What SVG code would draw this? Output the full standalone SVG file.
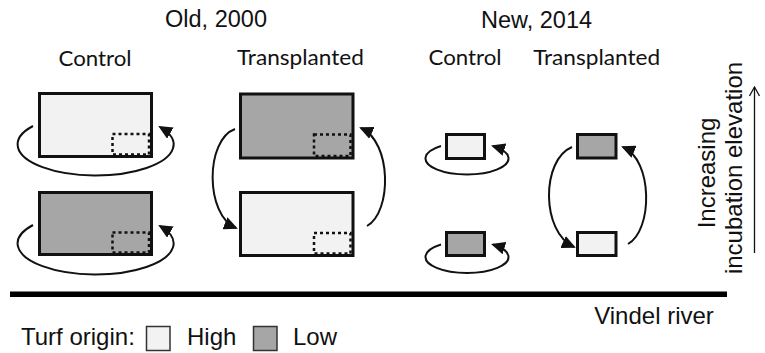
<svg xmlns="http://www.w3.org/2000/svg" width="765" height="353" viewBox="0 0 765 353">
  <style>
    .title { font-family: "Liberation Sans", Arial, sans-serif; font-size: 23.5px; fill: #111; }
    .head { font-family: Lato, "Open Sans", sans-serif; font-size: 22px; fill: #111; }
    .side { font-family: "Liberation Sans", Arial, sans-serif; font-size: 24px; fill: #111; }
    .hi { fill: #f2f2f2; stroke: #111; stroke-width: 3; }
    .lo { fill: #a6a6a6; stroke: #111; stroke-width: 3; }
    .sub { fill: none; stroke: #111; stroke-width: 2.5; stroke-dasharray: 3 3; }
    .move { fill: none; stroke: #111; stroke-width: 2; marker-end: url(#head); }
    .key-hi { fill: #f2f2f2; stroke: #333; stroke-width: 1.5; }
    .key-lo { fill: #a6a6a6; stroke: #333; stroke-width: 1.5; }
  </style>
  <defs>
    <marker id="head" markerUnits="userSpaceOnUse" markerWidth="15" markerHeight="13" refX="12" refY="6.5" orient="auto">
      <path d="M0,0 L14,6.5 L0,13 z" fill="#111"/>
    </marker>
    <marker id="open" markerUnits="userSpaceOnUse" markerWidth="12" markerHeight="12" refX="10" refY="6" orient="auto">
      <path d="M1,1 L10,6 L1,11" fill="none" stroke="#111" stroke-width="1.3"/>
    </marker>
  </defs>

  <!-- headings -->
  <text class="title" x="216" y="27" text-anchor="middle">Old, 2000</text>
  <text class="title" x="536.5" y="28" text-anchor="middle">New, 2014</text>
  <text class="head" x="95" y="66" text-anchor="middle" textLength="73" lengthAdjust="spacingAndGlyphs">Control</text>
  <text class="head" x="300.5" y="65" text-anchor="middle" textLength="127" lengthAdjust="spacingAndGlyphs">Transplanted</text>
  <text class="head" x="465" y="65" text-anchor="middle" textLength="73" lengthAdjust="spacingAndGlyphs">Control</text>
  <text class="head" x="596.7" y="65" text-anchor="middle" textLength="127" lengthAdjust="spacingAndGlyphs">Transplanted</text>

  <!-- plots, old site -->
  <g id="old-control-high">
    <rect class="hi" x="39.5" y="93.5" width="112" height="63"/>
    <rect class="sub" x="112.5" y="134" width="36.5" height="20.5"/>
  </g>
  <g id="old-control-low">
    <rect class="lo" x="39.5" y="192.5" width="112" height="62"/>
    <rect class="sub" x="112.5" y="232.5" width="36.5" height="20"/>
  </g>
  <g id="old-transplanted-low">
    <rect class="lo" x="240.5" y="94" width="112.5" height="64"/>
    <rect class="sub" x="314" y="134.5" width="36.5" height="21.5"/>
  </g>
  <g id="old-transplanted-high">
    <rect class="hi" x="240.5" y="192.5" width="112.5" height="63"/>
    <rect class="sub" x="314" y="233" width="36.5" height="20.5"/>
  </g>

  <!-- plots, new site -->
  <g id="new-control-high">
    <rect class="hi" x="446.5" y="134.5" width="38" height="24"/>
  </g>
  <g id="new-control-low">
    <rect class="lo" x="446.5" y="232.5" width="38" height="23"/>
  </g>
  <g id="new-transplanted-low">
    <rect class="lo" x="577.5" y="134.5" width="38.5" height="23.5"/>
  </g>
  <g id="new-transplanted-high">
    <rect class="hi" x="577.5" y="232.5" width="38.5" height="23"/>
  </g>

  <!-- turf movements -->
  <g id="connectors">
    <path class="move" d="M33,126 A78,31 0 1 0 160,127"/>
    <path class="move" d="M33,225 A78,31 0 1 0 160,226"/>
    <path class="move" d="M235,129 C205,140 205,215 236,228"/>
    <path class="move" d="M367,226 C392,212 392,142 361,128"/>
    <path class="move" d="M441,146 A41.5,16 0 1 0 493,146"/>
    <path class="move" d="M441,244.5 A41.5,16 0 1 0 493,244.5"/>
    <path class="move" d="M572,147 C541,160 541,232 574,247"/>
    <path class="move" d="M628,244 C653,230 653,160 623,147"/>
    <line x1="754.5" y1="253" x2="754.5" y2="87" stroke="#111" stroke-width="1.3" marker-end="url(#open)"/>
  </g>

  <!-- elevation axis label -->
  <text class="side" transform="translate(715,173) rotate(-90)" text-anchor="middle">Increasing</text>
  <text class="side" transform="translate(742,168) rotate(-90)" text-anchor="middle">incubation elevation</text>

  <!-- river -->
  <rect x="10" y="291.5" width="717" height="5.5" fill="#000"/>
  <text class="side" x="654" y="323.5" text-anchor="middle">Vindel river</text>

  <!-- legend -->
  <g id="legend">
    <text class="side" x="21" y="345">Turf origin:</text>
    <rect class="key-hi" x="146.5" y="326.5" width="23.5" height="24"/>
    <text class="side" x="187" y="345">High</text>
    <rect class="key-lo" x="253.5" y="326.5" width="23.5" height="24"/>
    <text class="side" x="293" y="345">Low</text>
  </g>
</svg>
